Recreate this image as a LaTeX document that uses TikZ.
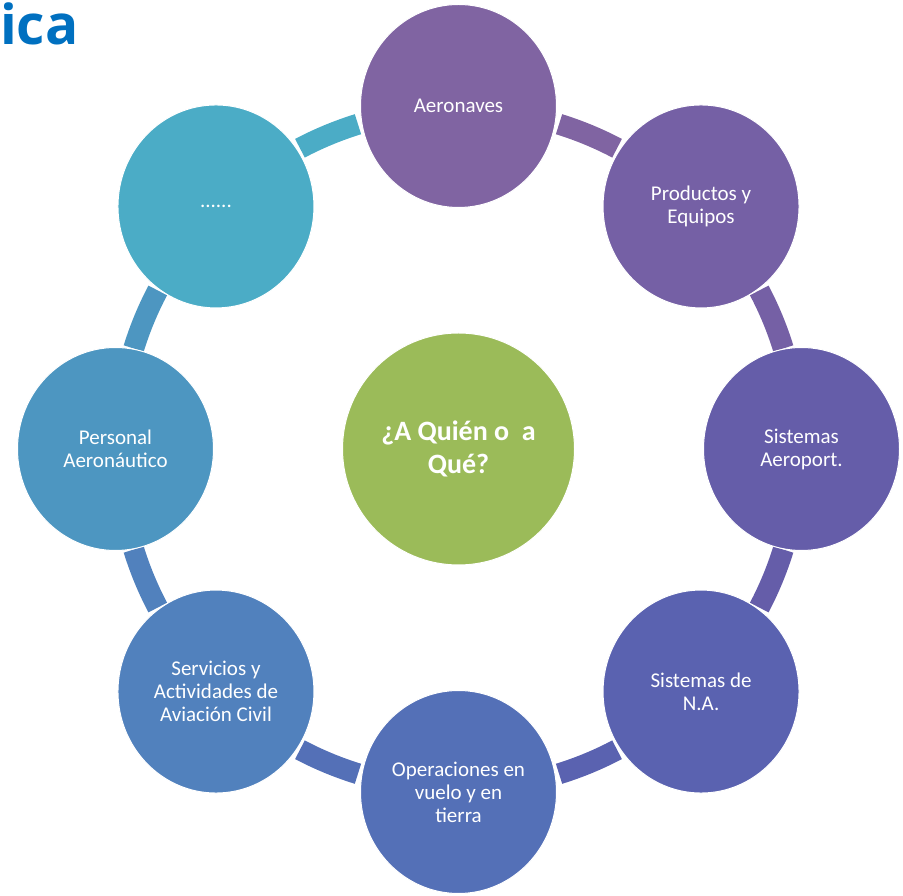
\documentclass[tikz,border=0pt]{standalone}
\usepackage{fontspec}
\setmainfont{Carlito}
\newfontfamily\titlefont{Open Sans}
\usetikzlibrary{shapes.geometric}
\definecolor{cA}{HTML}{8064A2}
\definecolor{cB}{HTML}{7560A5}
\definecolor{cC}{HTML}{655DA9}
\definecolor{cD}{HTML}{5A62B0}
\definecolor{cE}{HTML}{5470B7}
\definecolor{cF}{HTML}{5181BD}
\definecolor{cG}{HTML}{4D96C1}
\definecolor{cH}{HTML}{4BACC6}
\definecolor{cCenter}{HTML}{9BBB59}
\definecolor{titleblue}{HTML}{0070C0}
\begin{document}
\begin{tikzpicture}[x=1pt,y=1pt,
  item/.style={ellipse, minimum width=196pt, minimum height=203pt, inner sep=0pt,
    draw=white, line width=1pt, text=white, align=center,
    font=\fontsize{21}{23}\selectfont},
  hub/.style={circle, minimum size=232pt, inner sep=0pt, draw=white, line width=1pt,
    fill=cCenter, text=white, align=center, font=\fontsize{28}{33}\selectfont\bfseries},
  conn/.style={line width=21pt, line cap=butt}]
\useasboundingbox (0,0) rectangle (903,895);
\coordinate (O) at (458.5,446);
\node[anchor=base west, inner sep=0pt, text=titleblue, font=\fontsize{55}{55}\selectfont\titlefont\bfseries] (title) at (0,850) {ica};
% connectors
\draw[conn, cH] (O) ++(117.8:340) arc[start angle=117.8, end angle=107.2, radius=340];
\draw[conn, cA] (O) ++(72.8:340) arc[start angle=72.8, end angle=62.2, radius=340];
\draw[conn, cB] (O) ++(27.8:340) arc[start angle=27.8, end angle=17.2, radius=340];
\draw[conn, cC] (O) ++(-17.2:340) arc[start angle=-17.2, end angle=-27.8, radius=340];
\draw[conn, cD] (O) ++(-62.2:340) arc[start angle=-62.2, end angle=-72.8, radius=340];
\draw[conn, cE] (O) ++(-107.2:340) arc[start angle=-107.2, end angle=-117.8, radius=340];
\draw[conn, cF] (O) ++(-152.2:340) arc[start angle=-152.2, end angle=-162.8, radius=340];
\draw[conn, cG] (O) ++(162.8:340) arc[start angle=162.8, end angle=152.2, radius=340];
% circles
\node[item, fill=cA] (n1) at ([shift={(90:343)}]O) {Aeronaves};
\node[item, fill=cB] (n2) at ([shift={(45:343)}]O) {Productos y\\Equipos};
\node[item, fill=cC] (n3) at ([shift={(0:343)}]O) {Sistemas\\Aeroport.};
\node[item, fill=cD] (n4) at ([shift={(-45:343)}]O) {Sistemas de\\N.A.};
\node[item, fill=cE] (n5) at ([shift={(-90:343)}]O) {Operaciones en\\vuelo y en\\tierra};
\node[item, fill=cF] (n6) at ([shift={(-135:343)}]O) {Servicios y\\Actividades de\\Aviación Civil};
\node[item, fill=cG] (n7) at ([shift={(180:343)}]O) {Personal\\Aeronáutico};
\node[item, fill=cH] (n8) at ([shift={(135:343)}]O) {......};
\node[hub] (hub) at (O) {¿A Quién o~ a\\Qué?};
\end{tikzpicture}
\end{document}
